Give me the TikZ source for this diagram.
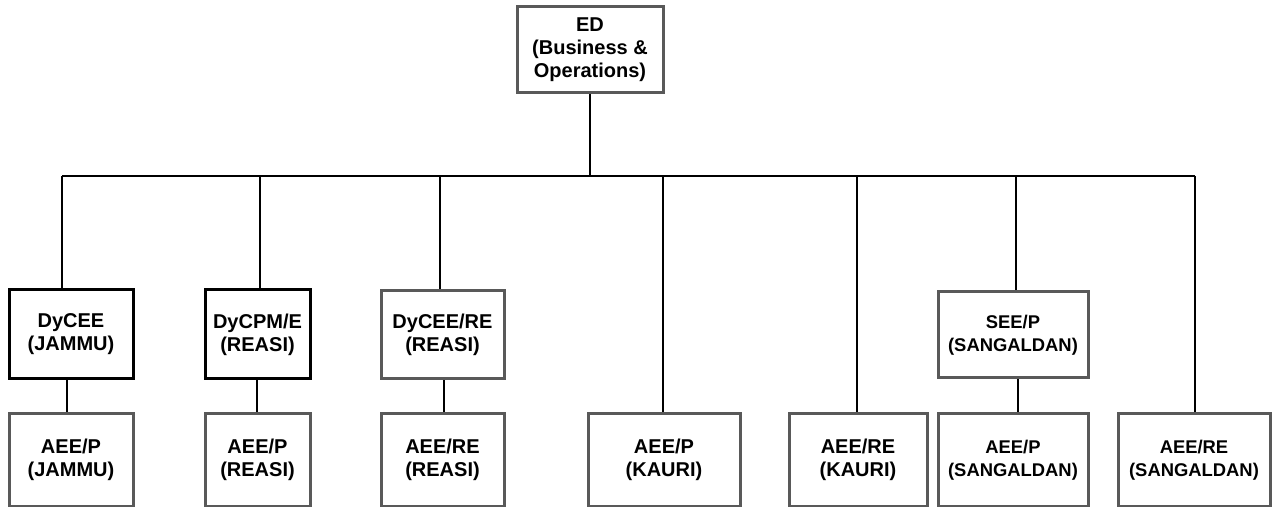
\documentclass[tikz,border=0pt]{standalone}
\usepackage{fontspec}
\setmainfont{Liberation Sans}
\definecolor{boxgray}{HTML}{595959}
\begin{document}
\begin{tikzpicture}[x=0.5pt,y=-0.5pt,
  box/.style={draw=boxgray, line width=1.5pt, fill=white, align=center,
    font=\fontsize{10}{11.5}\selectfont\bfseries, inner sep=0pt},
  dark/.style={draw=black},
  small/.style={font=\fontsize{9.2}{11.5}\selectfont\bfseries},
  conn/.style={line width=1pt, draw=black}]
\useasboundingbox (0,0) rectangle (1274,507);
% nodes
\node[box, minimum width=73pt, minimum height=43pt] (ed) at (590,50) {ED\\(Business \&\\Operations)};
\node[box, dark, minimum width=62pt, minimum height=44.5pt] (dy1) at (71,334.5) {DyCEE\\(JAMMU)};
\node[box, dark, minimum width=52.5pt, minimum height=44.5pt] (dy2) at (257.5,334.5) {DyCPM/E\\(REASI)};
\node[box, minimum width=61.5pt, minimum height=44pt] (dy3) at (442.5,335) {DyCEE/RE\\(REASI)};
\node[box, small, minimum width=75pt, minimum height=43pt] (see) at (1013,335) {SEE/P\\(SANGALDAN)};
\node[box, minimum width=62pt, minimum height=46pt] (a1) at (71,460) {AEE/P\\(JAMMU)};
\node[box, minimum width=52.5pt, minimum height=46pt] (a2) at (257.5,460) {AEE/P\\(REASI)};
\node[box, minimum width=61.5pt, minimum height=46pt] (a3) at (442.5,460) {AEE/RE\\(REASI)};
\node[box, minimum width=76pt, minimum height=46pt] (a4) at (664,460) {AEE/P\\(KAURI)};
\node[box, minimum width=69pt, minimum height=46pt] (a5) at (858,460) {AEE/RE\\(KAURI)};
\node[box, small, minimum width=75pt, minimum height=46pt] (a6) at (1013,460) {AEE/P\\(SANGALDAN)};
\node[box, small, minimum width=76pt, minimum height=46pt] (a7) at (1194,460) {AEE/RE\\(SANGALDAN)};
% bus coordinates
\coordinate (b1) at (62,176);
\coordinate (b2) at (260,176);
\coordinate (b3) at (440,176);
\coordinate (b4) at (663,176);
\coordinate (b5) at (857,176);
\coordinate (b6) at (1016,176);
\coordinate (b7) at (1195,176);
\coordinate (c1) at (67,0);
\coordinate (c2) at (257,0);
\coordinate (c3) at (444,0);
\coordinate (c6) at (1018,0);
% connectors
\draw[conn] (ed.south) -- (ed.south |- b1);
\draw[conn] (b1) -- (b7);
\draw[conn] (b1) -- (b1 |- dy1.north);
\draw[conn] (b2) -- (b2 |- dy2.north);
\draw[conn] (b3) -- (b3 |- dy3.north);
\draw[conn] (b4) -- (b4 |- a4.north);
\draw[conn] (b5) -- (b5 |- a5.north);
\draw[conn] (b6) -- (b6 |- see.north);
\draw[conn] (b7) -- (b7 |- a7.north);
\draw[conn] (c1 |- dy1.south) -- (c1 |- a1.north);
\draw[conn] (c2 |- dy2.south) -- (c2 |- a2.north);
\draw[conn] (c3 |- dy3.south) -- (c3 |- a3.north);
\draw[conn] (c6 |- see.south) -- (c6 |- a6.north);
\end{tikzpicture}
\end{document}
